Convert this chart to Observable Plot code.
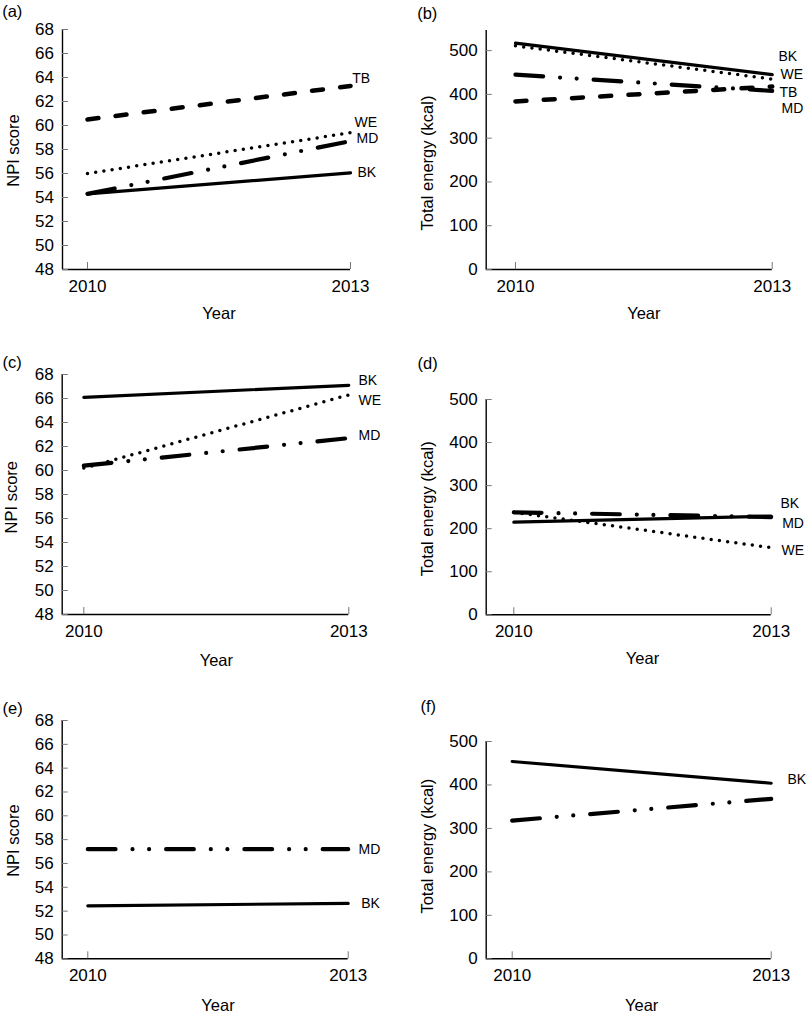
<!DOCTYPE html>
<html>
<head>
<meta charset="utf-8">
<script src="https://cdn.jsdelivr.net/npm/d3@7"></script>
<script src="https://cdn.jsdelivr.net/npm/@observablehq/plot@0.6"></script>
<style>
  body { margin: 0; background: #fff; font-family: "Liberation Sans", Arial, sans-serif; }
  #root { position: relative; width: 807px; height: 1015px; overflow: hidden; }
  .panel { position: absolute; }
</style>
</head>
<body>
<div id="root"></div>
<script>
// ---------- DATA ----------
const years = [2010, 2013];
const npiTicks = [48, 50, 52, 54, 56, 58, 60, 62, 64, 66, 68];
const energyTicks = [0, 100, 200, 300, 400, 500];
const npiLabel = "NPI score";
const energyLabel = "Total energy (kcal)";
const xLabel = "Year";

// (a) NPI score
const aBK = [54.3, 56.05];
const aMD = [54.3, 58.7];
const aWE = [56.0, 59.4];
const aTB = [60.5, 63.3];
// (b) Total energy
const bBK = [517, 445];
const bWE = [511, 435];
const bMD = [445, 408];
const bTB = [384, 418];
// (c) NPI score
const cBK = [66.1, 67.1];
const cWE = [60.2, 66.3];
const cMD = [60.4, 62.7];
// (d) Total energy
const dBK = [215, 229];
const dMD = [238, 227];
const dWE = [238, 156];
// (e) NPI score
const eBK = [52.45, 52.65];
const eMD = [57.2, 57.2];
// (f) Total energy
const fBK = [454, 404];
const fMD = [318, 368];

// ---------- STYLES ----------
const lineStyle = {
  BK: {strokeWidth: 3.2, strokeDasharray: null},
  WE: {strokeWidth: 3.5, strokeDasharray: "0,8.3"},
  MD: {strokeWidth: 4.2, strokeDasharray: "27.7,17,0,16.6,0,17"},
  TB: {strokeWidth: 4.5, strokeDasharray: "11,17.3"}
};

function rows(name, vals) { return years.map((y, i) => ({series: name, year: y, value: vals[i]})); }

const panels = [
  {letter: "(a)", left: 0, top: 0, width: 400, height: 330,
   m: {l: 62, r: 50, t: 29, b: 61}, xMin: 2009.715, yDomain: [48, 68], yTicks: npiTicks, yLabel: npiLabel,
   series: [["BK", aBK], ["MD", aMD], ["WE", aWE], ["TB", aTB]],
   labels: {TB: [1.7, -7], WE: [4, -10], MD: [6, -3], BK: [7, 0]},
   letterPos: [-60.3, -17.3], yearDy: 44, yLabelPos: [-48.7, 1]},
  {letter: "(b)", left: 400, top: 0, width: 407, height: 330,
   m: {l: 85.7, r: 35.3, t: 30, b: 61}, xMin: 2009.658, yDomain: [0, 546], yTicks: energyTicks, yLabel: energyLabel,
   series: [["BK", bBK], ["WE", bWE], ["MD", bMD], ["TB", bTB]],
   labels: {BK: [6.3, -18.2], WE: [8.3, -4.3], TB: [7.3, 5.7], MD: [9.3, 17.9]},
   letterPos: [-69, -16.7], yearDy: 44, yLabelPos: [-58.2, 13]},
  {letter: "(c)", left: 0, top: 330, width: 400, height: 340,
   m: {l: 61.7, r: 51.7, t: 44, b: 56}, xMin: 2009.755, yDomain: [48, 68], yTicks: npiTicks, yLabel: npiLabel,
   series: [["BK", cBK], ["WE", cWE], ["MD", cMD]],
   labels: {BK: [9.7, -4.8], WE: [9.7, 5.6], MD: [9.7, -2.6]},
   letterPos: [-59.7, -11.5], yearDy: 46, yLabelPos: [-50, 2.7]},
  {letter: "(d)", left: 400, top: 330, width: 407, height: 340,
   m: {l: 85.7, r: 36.3, t: 69, b: 55.7}, xMin: 2009.678, yDomain: [0, 500], yTicks: energyTicks, yLabel: energyLabel,
   series: [["BK", dBK], ["MD", dMD], ["WE", dWE]],
   labels: {BK: [9.3, -12.7], MD: [11, 6.5], WE: [10.3, 2.9]},
   letterPos: [-68.7, -35.7], yearDy: 44, yLabelPos: [-58.2, 1.6]},
  {letter: "(e)", left: 0, top: 670, width: 400, height: 345,
   m: {l: 61.7, r: 52.3, t: 50, b: 56.7}, xMin: 2009.705, yDomain: [48, 68], yTicks: npiTicks, yLabel: npiLabel,
   series: [["BK", eBK], ["MD", eMD]],
   labels: {MD: [10.3, 0], BK: [13, 0]},
   letterPos: [-59.7, -12], yearDy: 46.7, yLabelPos: [-48.4, 1]},
  {letter: "(f)", left: 400, top: 670, width: 407, height: 345,
   m: {l: 85.7, r: 36.3, t: 71, b: 56.7}, xMin: 2009.699, yDomain: [0, 500], yTicks: energyTicks, yLabel: energyLabel,
   series: [["BK", fBK], ["MD", fMD]],
   labels: {BK: [16.3, -3.7]},
   letterPos: [-65.7, -34.3], yearDy: 46.7, yLabelPos: [-58.2, -4]}
];

const root = document.getElementById("root");
const font = '"Liberation Sans", Arial, sans-serif';

for (const p of panels) {
  const fw = p.width - p.m.l - p.m.r;
  const fh = p.height - p.m.t - p.m.b;
  const marks = [];
  // axis lines
  marks.push(Plot.ruleX([p.xMin], {stroke: "#000", strokeWidth: 1.4}));
  marks.push(Plot.ruleY([p.yDomain[0]], {stroke: "#000", strokeWidth: 1.4}));
  // inward tick marks
  marks.push(Plot.tickY(p.yTicks, {y: d => d, stroke: "#777", strokeWidth: 1, insetRight: fw - 6}));
  marks.push(Plot.tickX(years, {x: d => d, stroke: "#777", strokeWidth: 1, insetTop: fh - 7}));
  // series lines
  for (const [name, vals] of p.series) {
    const st = lineStyle[name];
    marks.push(Plot.line(rows(name, vals), {
      x: "year", y: "value", stroke: "#000",
      strokeWidth: st.strokeWidth, strokeDasharray: st.strokeDasharray,
      strokeLinecap: "round", strokeLinejoin: "round"
    }));
  }
  // series labels
  for (const [name, vals] of p.series) {
    const pos = p.labels[name];
    if (!pos) continue;
    marks.push(Plot.text([{name, year: years[1], value: vals[1]}], {
      x: "year", y: "value", text: "name", textAnchor: "start",
      dx: pos[0], dy: pos[1], fontSize: 14, fill: "#000"
    }));
  }
  // panel letter
  marks.push(Plot.text([p.letter], {frameAnchor: "top-left", textAnchor: "start", lineAnchor: "middle", dx: p.letterPos[0], dy: p.letterPos[1], fontSize: 16.5, fill: "#000"}));
  // x-axis title
  marks.push(Plot.text([xLabel], {x: () => d3.mean(years), frameAnchor: "bottom", textAnchor: "middle", lineAnchor: "middle", dy: p.yearDy, fontSize: 16.5, fill: "#000"}));
  // y-axis title
  marks.push(Plot.text([p.yLabel], {frameAnchor: "left", rotate: -90, textAnchor: "middle", lineAnchor: "middle", dx: p.yLabelPos[0], dy: p.yLabelPos[1], fontSize: 16.5, fill: "#000"}));

  const chart = Plot.plot({
    width: p.width, height: p.height,
    marginLeft: p.m.l, marginRight: p.m.r, marginTop: p.m.t, marginBottom: p.m.b,
    style: {fontFamily: font, fontSize: "17px", background: "transparent", color: "#000", overflow: "visible"},
    x: {type: "linear", domain: [p.xMin, years[1]], ticks: years, tickFormat: d => String(d), tickSize: 0, tickPadding: 10, label: null},
    y: {domain: p.yDomain, ticks: p.yTicks, tickFormat: d => String(d), tickSize: 0, tickPadding: 8.5, label: null},
    marks
  });
  const div = document.createElement("div");
  div.className = "panel";
  div.style.left = p.left + "px";
  div.style.top = p.top + "px";
  div.appendChild(chart);
  root.appendChild(div);
}
</script>
</body>
</html>
